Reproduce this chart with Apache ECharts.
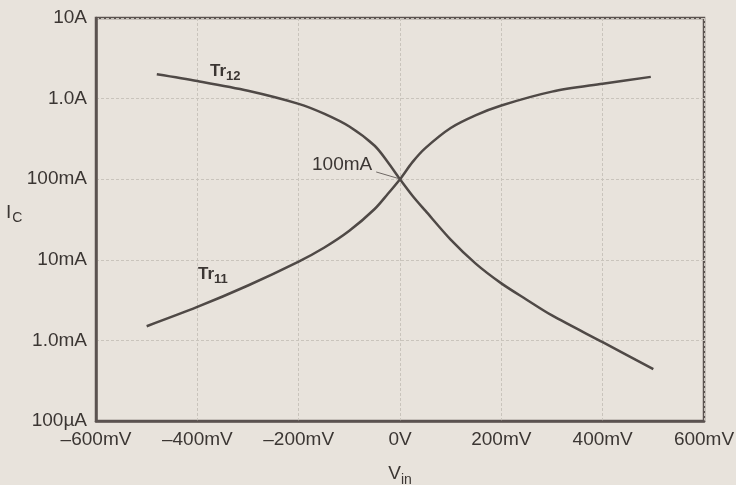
<!DOCTYPE html>
<html>
<head>
<meta charset="utf-8">
<script src="https://cdn.jsdelivr.net/npm/echarts@6/dist/echarts.min.js"></script>
<style>
  html, body { margin: 0; padding: 0; background: #e8e3dc; }
  #chart { width: 736px; height: 485px; }
</style>
</head>
<body>
<div id="chart"></div>
<script>
// collector current (A) vs input voltage (mV)
const tr12Vin = [-480, -400, -300, -200, -150, -100, -50, -25, 0, 25, 50, 100, 150, 200, 250, 300, 400, 500];
const tr12Ic = [2.0, 1.65, 1.25, 0.86, 0.65, 0.45, 0.26, 0.166, 0.10, 0.062, 0.0407, 0.0178, 0.0089, 0.0051, 0.0032, 0.00204, 0.00095, 0.00044];
const tr11Vin = [-500, -400, -300, -200, -150, -100, -50, -25, 0, 25, 50, 100, 150, 200, 300, 400, 495];
const tr11Ic = [0.0015, 0.0026, 0.0048, 0.0095, 0.0141, 0.0229, 0.0427, 0.0646, 0.10, 0.164, 0.243, 0.432, 0.624, 0.822, 1.22, 1.53, 1.86];

const xTickLabels = ['–600mV', '–400mV', '–200mV', '0V', '200mV', '400mV', '600mV'];
const yTickLabels = ['100µA', '1.0mA', '10mA', '100mA', '1.0A', '10A'];

const font = 'Liberation Sans, Arial, sans-serif';
const textColor = '#3b3633';
const frameColor = '#5b5350';
const gridColor = '#c9c4bc';
const curveColor = '#4f4946';

const chart = echarts.init(document.getElementById('chart'));

const option = {
  backgroundColor: '#e8e3dc',
  animation: false,
  grid: {
    left: 96, right: 32, top: 18, bottom: 64,
    outerBoundsMode: 'none',
    show: true,
    borderColor: frameColor,
    borderWidth: 2.5,
    backgroundColor: 'transparent',
  },
  xAxis: {
    type: 'value',
    min: -600,
    max: 600,
    interval: 200,
    axisLine: { show: true, onZero: false, lineStyle: { color: frameColor, width: 2.5 } },
    axisTick: { show: false },
    splitLine: { show: true, lineStyle: { color: gridColor, width: 1, type: [3, 2] } },
    axisLabel: {
      margin: 9,
      fontSize: 19,
      fontFamily: font,
      color: textColor,
      formatter: (v) => xTickLabels[Math.round((v + 600) / 200)],
    },
    name: '{v|V}{s|in}',
    nameLocation: 'middle',
    nameGap: 40,
    nameTextStyle: {
      rich: {
        v: { fontSize: 19, fontFamily: font, color: textColor },
        s: { fontSize: 14, fontFamily: font, color: textColor, padding: [12, 0, 0, 0] },
      },
    },
  },
  yAxis: {
    type: 'log',
    logBase: 10,
    min: 0.0001,
    max: 10,
    splitNumber: 5,
    axisLine: { show: true, onZero: false, lineStyle: { color: frameColor, width: 2.5 } },
    axisTick: { show: false },
    minorTick: { show: false },
    splitLine: { show: true, lineStyle: { color: gridColor, width: 1, type: [3, 2] } },
    axisLabel: {
      margin: 9,
      fontSize: 19,
      fontFamily: font,
      color: textColor,
      formatter: (v) => yTickLabels[Math.round(Math.log10(v)) + 4],
    },
  },
  series: [
    {
      name: 'Tr12',
      type: 'line',
      data: tr12Vin.map((v, i) => [v, tr12Ic[i]]),
      smooth: 0.3,
      showSymbol: false,
      lineStyle: { color: curveColor, width: 2.5 },
      z: 3,
    },
    {
      name: 'Tr11',
      type: 'line',
      data: tr11Vin.map((v, i) => [v, tr11Ic[i]]),
      smooth: 0.3,
      showSymbol: false,
      lineStyle: { color: curveColor, width: 2.5 },
      z: 3,
      markLine: {
        silent: true,
        symbol: 'none',
        label: { show: false },
        lineStyle: { color: '#6e6864', width: 1, type: 'solid' },
        data: [[{ coord: [-47, 0.123] }, { coord: [-3, 0.102] }]],
      },
    },
  ],
  graphic: [
    {
      type: 'text', left: 210, top: 63,
      style: {
        text: '{t|Tr}{s|12}',
        rich: {
          t: { fontSize: 17, fontWeight: 'bold', fontFamily: font, fill: textColor },
          s: { fontSize: 13, fontWeight: 'bold', fontFamily: font, fill: textColor, padding: [9, 0, 0, 0] },
        },
      },
    },
    {
      type: 'text', left: 198, top: 266,
      style: {
        text: '{t|Tr}{s|11}',
        rich: {
          t: { fontSize: 17, fontWeight: 'bold', fontFamily: font, fill: textColor },
          s: { fontSize: 13, fontWeight: 'bold', fontFamily: font, fill: textColor, padding: [9, 0, 0, 0] },
        },
      },
    },
    {
      type: 'text', left: 312, top: 155,
      style: { text: '100mA', fontSize: 19, fontFamily: font, fill: textColor },
    },
    {
      type: 'text', left: 6, top: 203,
      style: {
        text: '{v|I}{s|C}',
        rich: {
          v: { fontSize: 19, fontFamily: font, fill: textColor },
          s: { fontSize: 14, fontFamily: font, fill: textColor, padding: [12, 0, 0, 1] },
        },
      },
    },
  ],
};

chart.setOption(option);
</script>
</body>
</html>
